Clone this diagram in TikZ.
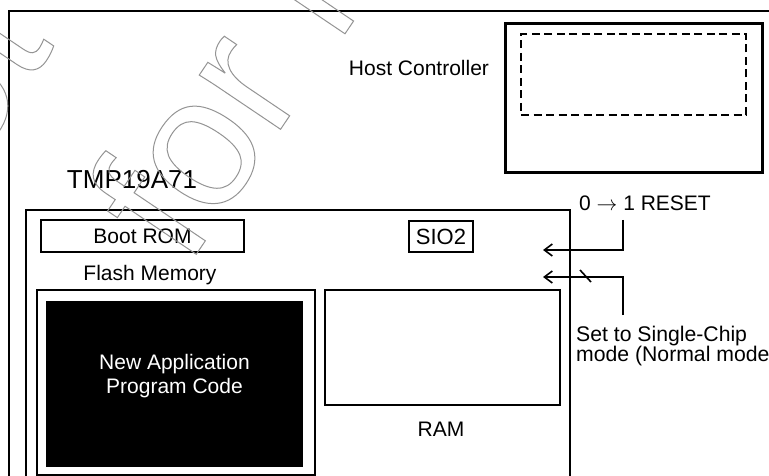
\documentclass[tikz,border=0pt]{standalone}
\usepackage{fontspec}
\setmainfont{Liberation Sans}
\usetikzlibrary{arrows.meta}

% 透かし用の縁取り文字
\newcommand{\wmoutline}[1]{%
  \special{pdf:literal direct 1 Tr 1 w}#1\special{pdf:literal direct 0 Tr}}

\begin{document}
\begin{tikzpicture}[
  x=1pt,y=-1pt,
  >={Straight Barb[length=8pt,width=12pt]},
  blk/.style={draw,line width=2pt,inner sep=0pt},
  lbl/.style={inner sep=0pt,font=\fontsize{21}{24}\selectfont},
  sig/.style={line width=1.6pt},
  wm/.style={inner sep=0pt,text=black!42,
    font=\fontsize{185}{210}\selectfont}
]
\useasboundingbox (0,0) rectangle (769,476);
\clip (0,0) rectangle (769,476);

% 外枠
\draw[line width=2.6pt] (9,500) -- (9,11) -- (790,11);

%--------------------
% ホストコントローラ
%--------------------
\node[blk,line width=3pt,minimum width=257pt,minimum height=149pt]
  (host) at (633.5,98.5) {};
\node[draw,line width=1.8pt,dash pattern=on 8pt off 4.5pt,
  minimum width=225pt,minimum height=81pt] (hostbuf) at (633.5,74.5) {};
\node[lbl] (hostname) at (419,68) {Host Controller};

%--------------------
% TMP19A71
%--------------------
\node[inner sep=0pt,font=\fontsize{26}{30}\selectfont]
  (chipname) at (132,180) {TMP19A71};
\node[blk,anchor=north west,minimum width=544pt,minimum height=320pt]
  (chip) at (25,209) {};

% Boot ROM と SIO2
\node[blk,lbl,minimum width=203pt,minimum height=32pt]
  (bootrom) at (142.5,236) {Boot ROM};
\node[blk,inner sep=0pt,font=\fontsize{22}{24}\selectfont,
  minimum width=64pt,minimum height=31pt] (sio) at (441,236.5) {SIO2};

% フラッシュメモリ
\node[lbl] (flashname) at (150,275) {Flash Memory};
\node[blk,line width=2.3pt,anchor=north west,minimum width=278pt,
  minimum height=185pt] (flash) at (36,289) {};
\node[fill=black,anchor=north west,minimum width=257pt,
  minimum height=166pt] (newcode) at (46,301) {};
\node[lbl,text=white,align=center] (newcodetext) at (174.5,376.5)
  {New Application\\Program Code};

% RAM
\node[blk,anchor=north west,minimum width=235pt,minimum height=115pt]
  (ram) at (324,289) {};
\node[lbl] (ramname) at (441,429) {RAM};

%--------------------
% 端子の設定
%--------------------
\node[lbl,anchor=west] (reset) at (579,203) {0 $\rightarrow$ 1 RESET};
\coordinate (rsttop) at (623,220);
\coordinate (rstin) at (543,250);
\draw[sig,->] (rsttop) |- (rstin);

\coordinate (modebot) at (623,315);
\coordinate (modein) at (543,277);
\draw[sig,->] (modebot) |- (modein);
\draw[sig] (580,270) -- (591,282);

\node[inner sep=0pt,anchor=north west,align=left,
  font=\fontsize{21.2}{20}\selectfont] (modetext) at (576,326)
  {Set to Single-Chip\\mode (Normal mode};

%--------------------
% 透かし
%--------------------
\node[wm,rotate=56,anchor=base west] (wmline2) at (187,268)
  {\wmoutline{for New Design}};
\node[wm,rotate=56,anchor=base west] (wmline1) at (-106,284)
  {\wmoutline{Not Recommended}};

\end{tikzpicture}
\end{document}
